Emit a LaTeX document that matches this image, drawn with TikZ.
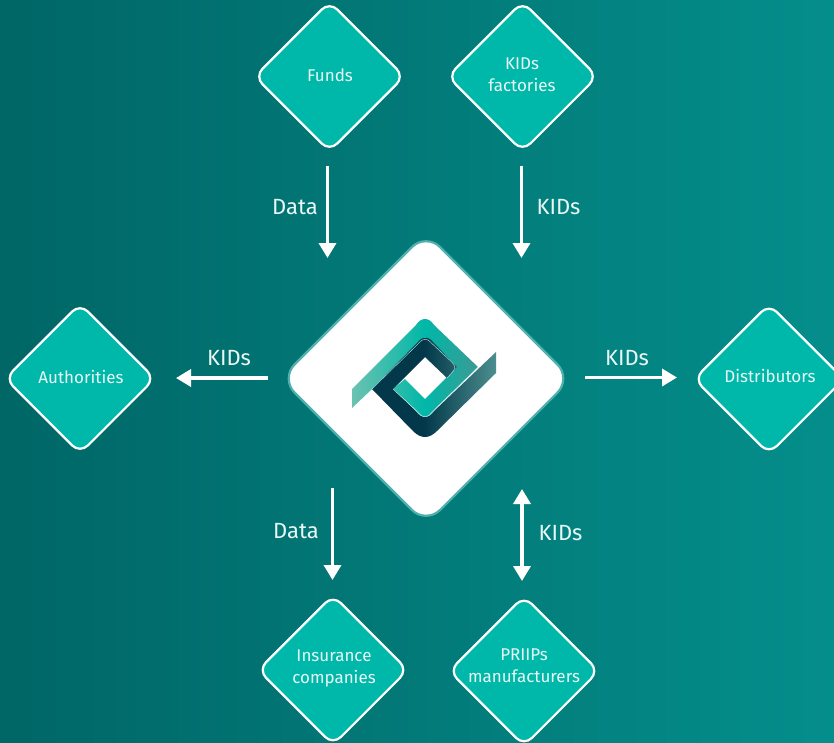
\documentclass[tikz,border=0pt]{standalone}
\usepackage{fontspec}
\setmainfont{Fira Sans}
\usetikzlibrary{shapes.geometric,arrows.meta}
\definecolor{bgL}{HTML}{006666}
\definecolor{bgR}{HTML}{048E8B}
\definecolor{tealbox}{HTML}{00B8AA}
\definecolor{txt}{HTML}{E8F8F6}
\pgfdeclarehorizontalshading{lightband}{100bp}{rgb(0bp)=(0.42,0.76,0.69);rgb(25bp)=(0.42,0.76,0.69);rgb(54bp)=(0,0.72,0.66);rgb(75bp)=(0.24,0.60,0.58);rgb(100bp)=(0.24,0.60,0.58)}
\pgfdeclarehorizontalshading{darkband}{100bp}{rgb(0bp)=(0.01,0.22,0.29);rgb(46bp)=(0.01,0.22,0.29);rgb(75bp)=(0.30,0.56,0.56);rgb(100bp)=(0.30,0.56,0.56)}
\tikzset{
  small diamond/.style={shape=diamond,aspect=1,draw=white,fill=tealbox,line width=2.2pt,
    rounded corners=11pt,inner sep=0pt,minimum width=150.5pt,minimum height=150.5pt},
  hub diamond/.style={shape=diamond,aspect=1,draw=white!30!bgR,fill=white,line width=2.2pt,
    rounded corners=20pt,inner sep=0pt,minimum width=292pt,minimum height=292pt},
  box text/.style={text=txt,font=\fontsize{17}{22}\selectfont,align=center,inner sep=0pt},
  flow text/.style={text=txt,font=\fontsize{22}{24}\selectfont,inner sep=0pt},
  flow/.style={white,line width=3.5pt,-{Triangle[width=17pt,length=15pt]}},
  both flow/.style={white,line width=3.5pt,{Triangle[width=17pt,length=15pt]}-{Triangle[width=17pt,length=15pt]}},
  logo seam/.style={white!75!tealbox,line width=.4pt,rounded corners=6pt}
}
\begin{document}
\begin{tikzpicture}[x=1pt,y=-1pt]
\useasboundingbox (0,0) rectangle (834,742);
\shade[left color=bgL,right color=bgR] (0,0) rectangle (834,742);

% diamonds
\node[small diamond] (funds) at (329.5,76.5) {};
\node[small diamond] (factories) at (522.5,76.5) {};
\node[small diamond] (auth) at (80,378.5) {};
\node[small diamond] (dist) at (769,379) {};
\node[small diamond] (ins) at (333,670) {};
\node[small diamond] (priips) at (524,671) {};
\node[hub diamond] (hub) at (426,378.5) {};

% diamond texts
\node[box text] (fundsT) at (330,75) {Funds};
\node[box text] (factoriesT) at (522,75) {KIDs\\factories};
\node[box text] (authT) at (81,377) {Authorities};
\node[box text] (distT) at (770,376) {Distributors};
\node[box text] (insT) at (334,668) {Insurance\\companies};
\node[box text] (priipsT) at (524,666) {PRIIPs\\manufacturers};

% logo
\shade[shading=lightband]
  (352,389) -- (416,325) .. controls (421,317) and (429,317) .. (434,325)
  -- (478,367) -- (434,410) .. controls (429,419) and (421,419) .. (416,410)
  -- (393,389) -- (405,379) -- (425,399) -- (457,367) -- (425,337) -- (372,389) -- (352,408) -- cycle;
\shade[shading=darkband]
  (372,389) -- (418,342) .. controls (423,336) and (428,336) .. (433,342)
  -- (457,367) -- (447,378) -- (425,357) -- (393,389) -- (416,411)
  .. controls (421,419) and (429,419) .. (434,411) -- (496,352) -- (496,373) -- (437,431)
  .. controls (429,439) and (421,439) .. (413,431) -- cycle;
\draw[logo seam] (372,389) -- (425,337) -- (457,367) -- (447,378);
\draw[logo seam] (393,389) -- (425,419) -- (478,367);

% connector ends
\coordinate (a1) at (327.5,166); \coordinate (a2) at (327.5,258);
\coordinate (b1) at (521.5,166); \coordinate (b2) at (521.5,258);
\coordinate (c1) at (268,378); \coordinate (c2) at (176,378);
\coordinate (d1) at (585,377.5); \coordinate (d2) at (677,377.5);
\coordinate (e1) at (332.5,488); \coordinate (e2) at (332.5,580);
\coordinate (f1) at (522,489); \coordinate (f2) at (522,581);

\draw[flow] (a1) -- (a2);
\draw[flow] (b1) -- (b2);
\draw[flow] (c1) -- (c2);
\draw[flow] (d1) -- (d2);
\draw[flow] (e1) -- (e2);
\draw[both flow] (f1) -- (f2);

% connector labels
\node[flow text] (l1) at (295,207) {Data};
\node[flow text] (l2) at (558.5,207) {KIDs};
\node[flow text] (l3) at (229,358) {KIDs};
\node[flow text] (l4) at (627,358) {KIDs};
\node[flow text] (l5) at (296,531) {Data};
\node[flow text] (l6) at (560.5,533) {KIDs};
\end{tikzpicture}
\end{document}
